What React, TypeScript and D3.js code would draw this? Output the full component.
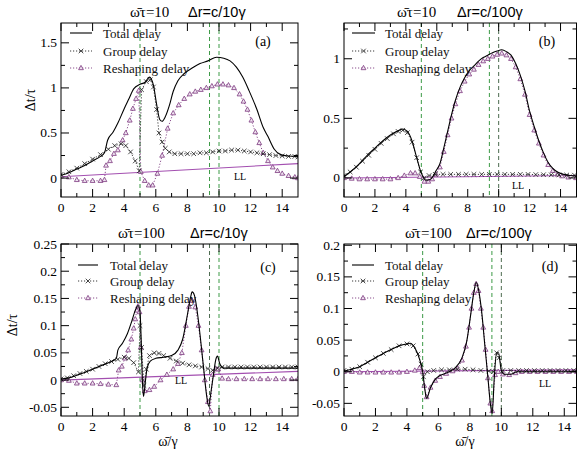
import React from 'react';
import * as d3 from 'd3';

type P = [number, number];

// ---------------- Panel (a): ω̄τ=10, Δr=c/10γ ----------------
const totalA: P[] = [[0,0.03],[0.5,0.06],[1,0.10],[1.5,0.14],[2,0.19],[2.5,0.24],[2.75,0.28],[2.95,0.42],[3.3,0.51],[3.6,0.61],[4.0,0.77],[4.3,0.88],[4.6,0.99],[5.0,1.04],[5.3,1.06],[5.6,1.12],[5.85,1.03],[6.05,0.82],[6.25,0.65],[6.4,0.63],[6.6,0.68],[6.85,0.80],[7.1,0.96],[7.4,1.08],[7.8,1.16],[8.3,1.22],[8.8,1.27],[9.3,1.30],[9.85,1.34],[10.3,1.33],[10.7,1.30],[11.1,1.23],[11.5,1.12],[11.9,0.97],[12.4,0.76],[12.8,0.56],[13.1,0.46],[13.5,0.32],[13.9,0.26],[14.4,0.245],[15,0.24]];
const groupA: P[] = [[0,0.04],[0.5,0.07],[1,0.11],[1.5,0.16],[2,0.21],[2.5,0.26],[3,0.32],[3.4,0.36],[3.8,0.38],[4.1,0.36],[4.4,0.29],[4.7,0.19],[4.95,0.08],[5.1,0.98],[5.4,1.07],[5.65,1.09],[5.85,1.01],[6.05,0.76],[6.2,0.5],[6.4,0.40],[6.6,0.33],[6.85,0.29],[7.2,0.27],[7.6,0.27],[8.0,0.27],[8.4,0.27],[8.8,0.28],[9.2,0.28],[9.6,0.29],[10.0,0.30],[10.4,0.30],[10.8,0.31],[11.2,0.31],[11.6,0.30],[12.0,0.29],[12.4,0.28],[12.8,0.27],[13.2,0.26],[13.6,0.25],[14.0,0.245],[14.4,0.24],[14.8,0.24],[15,0.235]];
const reshA: P[] = [[0,0.02],[0.5,0.01],[1,-0.02],[1.5,-0.03],[2,-0.03],[2.5,-0.03],[2.75,-0.02],[2.85,0.14],[3.1,0.19],[3.35,0.27],[3.6,0.31],[3.9,0.42],[4.1,0.50],[4.35,0.64],[4.55,0.77],[4.75,0.88],[4.92,0.97],[5.05,0.07],[5.3,-0.03],[5.55,-0.08],[5.8,-0.08],[6.1,0.05],[6.4,0.25],[6.75,0.55],[7.1,0.72],[7.45,0.81],[7.8,0.88],[8.15,0.93],[8.5,0.96],[8.85,0.98],[9.2,1.0],[9.55,1.02],[9.9,1.04],[10.25,1.04],[10.6,1.03],[10.95,1.0],[11.3,0.93],[11.55,0.85],[11.8,0.76],[12.05,0.64],[12.3,0.51],[12.55,0.39],[12.8,0.28],[13.1,0.19],[13.4,0.12],[13.7,0.08],[14.0,0.05],[14.4,0.025],[14.8,0.01],[15,0.0]];
const llA: P[] = [[0,0.015],[15,0.16]];

// ---------------- Panel (b): ω̄τ=10, Δr=c/100γ ----------------
const totalB: P[] = [[0,0.01],[0.5,0.06],[1,0.12],[1.5,0.19],[2,0.25],[2.5,0.31],[3,0.36],[3.4,0.39],[3.8,0.41],[4.1,0.39],[4.4,0.31],[4.7,0.17],[5.0,0.04],[5.3,-0.02],[5.6,-0.01],[5.95,0.06],[6.2,0.12],[6.45,0.25],[6.7,0.39],[6.95,0.53],[7.2,0.65],[7.5,0.76],[7.8,0.84],[8.1,0.90],[8.4,0.94],[8.7,0.98],[9.0,1.01],[9.3,1.03],[9.6,1.05],[9.9,1.065],[10.2,1.075],[10.5,1.06],[10.8,1.03],[11.1,0.96],[11.4,0.86],[11.7,0.73],[12.0,0.56],[12.3,0.43],[12.6,0.31],[12.9,0.21],[13.2,0.13],[13.5,0.08],[13.8,0.05],[14.2,0.03],[14.6,0.02],[15,0.015]];
const groupB: P[] = [[0,0.02],[0.4,0.05],[0.8,0.09],[1.2,0.14],[1.6,0.19],[2.0,0.24],[2.4,0.29],[2.8,0.33],[3.2,0.37],[3.5,0.39],[3.8,0.40],[4.1,0.38],[4.4,0.30],[4.7,0.17],[4.95,0.05],[5.2,0.0],[5.5,0.02],[5.9,0.03],[6.4,0.03],[6.9,0.03],[7.4,0.03],[7.9,0.03],[8.4,0.03],[8.9,0.03],[9.4,0.03],[9.9,0.03],[10.4,0.03],[10.9,0.03],[11.4,0.03],[11.9,0.03],[12.4,0.028],[12.9,0.027],[13.4,0.026],[13.9,0.025],[14.4,0.024],[14.9,0.023]];
const reshB: P[] = [[0,0.0],[0.5,-0.005],[1,-0.01],[1.5,-0.01],[2,-0.01],[2.5,-0.01],[3,-0.01],[3.5,0.0],[3.9,0.02],[4.3,0.04],[4.6,0.04],[4.9,0.01],[5.2,-0.03],[5.45,-0.03],[5.7,-0.01],[5.95,0.03],[6.2,0.09],[6.45,0.22],[6.7,0.36],[6.95,0.5],[7.2,0.62],[7.5,0.73],[7.8,0.81],[8.1,0.87],[8.4,0.91],[8.7,0.95],[9.0,0.98],[9.3,1.0],[9.6,1.02],[9.9,1.035],[10.2,1.045],[10.5,1.03],[10.8,1.0],[11.1,0.93],[11.4,0.83],[11.7,0.70],[12.0,0.53],[12.3,0.40],[12.6,0.29],[12.9,0.19],[13.2,0.11],[13.5,0.06],[13.8,0.03],[14.1,0.015],[14.5,0.005],[15,0.0]];
const llB: P[] = [[0,0.0],[15,0.02]];

// ---------------- Panel (c): ω̄τ=100, Δr=c/10γ ----------------
const totalC: P[] = [[0,0.002],[0.5,0.004],[1,0.009],[1.5,0.014],[2,0.02],[2.5,0.026],[3,0.032],[3.5,0.04],[3.6,0.055],[3.9,0.068],[4.2,0.085],[4.5,0.11],[4.7,0.128],[4.88,0.137],[5.0,0.125],[5.08,0.07],[5.15,0.0],[5.22,-0.03],[5.35,0.0],[5.45,0.022],[5.65,0.035],[6.0,0.04],[6.5,0.042],[7.0,0.045],[7.4,0.055],[7.7,0.075],[8.0,0.12],[8.2,0.152],[8.3,0.162],[8.45,0.155],[8.65,0.12],[8.85,0.07],[9.05,0.015],[9.2,-0.025],[9.35,-0.048],[9.5,-0.02],[9.65,0.01],[9.8,0.038],[9.9,0.044],[10.05,0.03],[10.3,0.022],[11,0.022],[15,0.022]];
const groupC: P[] = [[0,0.002],[0.4,0.004],[0.8,0.008],[1.2,0.012],[1.6,0.016],[2.0,0.02],[2.4,0.025],[2.8,0.03],[3.2,0.034],[3.6,0.038],[4.0,0.042],[4.3,0.04],[4.6,0.032],[4.9,0.015],[5.0,0.1],[5.1,0.06],[5.25,-0.01],[5.4,0.02],[5.6,0.045],[5.9,0.05],[6.2,0.049],[6.5,0.045],[6.9,0.04],[7.3,0.035],[7.7,0.031],[8.1,0.028],[8.5,0.026],[8.9,0.024],[9.3,0.021],[9.6,0.018],[9.9,0.022],[10.2,0.024],[10.6,0.024],[11.0,0.024],[11.4,0.024],[11.8,0.024],[12.2,0.024],[12.6,0.024],[13.0,0.024],[13.4,0.024],[13.8,0.024],[14.2,0.024],[14.6,0.024],[15,0.024]];
const reshC: P[] = [[0,0.0],[0.5,-0.001],[1,-0.006],[1.5,-0.006],[2,-0.006],[2.5,-0.007],[3,-0.008],[3.5,-0.009],[3.65,0.018],[3.85,0.025],[4.05,0.04],[4.25,0.055],[4.45,0.075],[4.6,0.095],[4.7,0.112],[4.8,0.128],[4.88,0.136],[4.97,0.125],[5.05,0.06],[5.15,0.0],[5.3,-0.02],[5.6,-0.018],[5.9,-0.012],[6.3,0.0],[6.7,0.01],[7.1,0.02],[7.4,0.03],[7.65,0.05],[7.9,0.1],[8.1,0.135],[8.3,0.146],[8.5,0.134],[8.7,0.1],[8.9,0.055],[9.1,0.0],[9.3,-0.04],[9.45,-0.057],[9.6,0.01],[9.8,0.02],[9.95,0.02],[10.2,0.003],[10.6,0.002],[11.1,0.002],[11.6,0.002],[12.1,0.002],[12.6,0.002],[13.1,0.002],[13.6,0.002],[14.1,0.002],[14.6,0.002],[15,0.002]];
const llC: P[] = [[0,0.0],[15,0.016]];

// ---------------- Panel (d): ω̄τ=100, Δr=c/100γ ----------------
const totalD: P[] = [[0,0.001],[0.5,0.004],[1,0.008],[1.5,0.015],[2,0.022],[2.5,0.029],[3,0.035],[3.5,0.041],[4.0,0.044],[4.2,0.045],[4.5,0.038],[4.8,0.02],[5.0,0.0],[5.15,-0.03],[5.25,-0.042],[5.5,-0.025],[5.8,-0.012],[6.1,-0.006],[6.6,-0.001],[7.1,0.007],[7.5,0.022],[7.8,0.048],[8.05,0.09],[8.25,0.125],[8.4,0.141],[8.55,0.13],[8.75,0.095],[8.95,0.042],[9.15,-0.01],[9.3,-0.05],[9.42,-0.066],[9.55,-0.01],[9.7,0.03],[9.82,0.03],[10.0,0.002],[10.2,-0.004],[10.6,-0.004],[11.0,0.0],[15,0.0]];
const groupD: P[] = [[0,0.002],[0.5,0.004],[1,0.008],[1.5,0.015],[2,0.022],[2.5,0.029],[3,0.035],[3.5,0.041],[4,0.044],[4.4,0.041],[4.7,0.028],[4.9,0.012],[5.05,-0.008],[5.3,0.0],[5.7,0.002],[6.2,0.003],[6.7,0.003],[7.2,0.004],[7.7,0.004],[8.2,0.003],[8.7,0.002],[9.2,0.001],[9.5,0.0],[9.7,0.03],[9.85,0.022],[10.1,0.002],[10.6,0.002],[11.1,0.002],[11.6,0.002],[12.1,0.002],[12.6,0.002],[13.1,0.002],[13.6,0.002],[14.1,0.002],[14.6,0.002],[15,0.002]];
const reshD: P[] = [[0,0],[0.5,0],[1,-0.001],[1.5,-0.001],[2,-0.001],[2.5,-0.001],[3,-0.001],[3.5,-0.001],[4,0.0],[4.5,0.002],[4.8,0.006],[5.0,0.0],[5.1,-0.022],[5.25,-0.04],[5.5,-0.025],[5.8,-0.014],[6.1,-0.008],[6.5,-0.003],[6.9,0.001],[7.2,0.005],[7.5,0.018],[7.75,0.04],[7.95,0.07],[8.1,0.1],[8.25,0.125],[8.4,0.139],[8.55,0.128],[8.7,0.1],[8.85,0.07],[9.0,0.035],[9.15,-0.01],[9.3,-0.05],[9.42,-0.062],[9.6,-0.005],[9.8,0.0],[10.1,-0.004],[10.5,-0.005],[10.9,-0.002],[11.3,0.0],[11.8,0.0],[12.3,0.0],[12.8,0.0],[13.3,0.0],[13.8,0.0],[14.3,0.0],[14.8,0.0]];
const llD: P[] = [[0,0.0],[15,0.003]];

// ---------------- Axes, ticks, labels ----------------
const xMajorTicks = [0, 2, 4, 6, 8, 10, 12, 14];
const xMinorTicks = [1, 3, 5, 7, 9, 11, 13];
const yMajorA = [0, 0.5, 1, 1.5];
const yMinorA = [0.25, 0.75, 1.25];
const yMajorB = [0, 0.5, 1];
const yMinorB = [0.25, 0.75, 1.25];
const yMajorC = [-0.05, 0, 0.05, 0.1, 0.15, 0.2, 0.25];
const yMinorC = [-0.025, 0.025, 0.075, 0.125, 0.175, 0.225];
const yMajorD = [-0.05, 0, 0.05, 0.1, 0.15, 0.2];
const yMinorD = [-0.025, 0.025, 0.075, 0.125, 0.175];
const dashedA = [5, 9.4, 10];
const dashedB = [5, 9.4, 10];
const dashedC = [5, 9.4, 10];
const dashedD = [5, 9.4, 10];
const OB = "\u03C9\u0304";
const titleA = [OB + "\u03C4=10", "\u0394r=c/10\u03B3"];
const titleB = [OB + "\u03C4=10", "\u0394r=c/100\u03B3"];
const titleC = [OB + "\u03C4=100", "\u0394r=c/10\u03B3"];
const titleD = [OB + "\u03C4=100", "\u0394r=c/100\u03B3"];
const legendLabels = ["Total delay", "Group delay", "Reshaping delay"];
const yAxisLabel = "\u0394t/\u03C4";
const xAxisLabel = OB + "/\u03B3";

const SERIF = "Liberation Serif, Times New Roman, Times, DejaVu Serif, serif";
const SANS = "Liberation Sans, Arial, Helvetica, sans-serif";
const PURPLE = "#7d3a80";
const LLCOL = "#a34fb0";
const GREEN = "#3c9a46";
const DARKG = "#4d6b50";

const panels = [
  { id: 'a', letter: '(a)', left: 61, frameRight: 298, xRange: [61, 298], top: 23, bottom: 197, yDomain: [-0.21, 1.72],
    yMajor: yMajorA, yMinor: yMinorA, total: totalA, group: groupA, resh: reshA, ll: llA, dashed: dashedA, dashCols: [GREEN, GREEN, GREEN],
    title: titleA, titleX: [130, 188], titleY: 17, letterPos: [263, 46], legend: { x0: 70, x1: 92, tx: 103, ys: [33, 51, 68] },
    llPos: [240, 180], xLabelX: null, yLabelPos: [32, 100] },
  { id: 'b', letter: '(b)', left: 344, frameRight: 576.5, xRange: [344, 576], top: 23, bottom: 197, yDomain: [-0.16, 1.3],
    yMajor: yMajorB, yMinor: yMinorB, total: totalB, group: groupB, resh: reshB, ll: llB, dashed: dashedB, dashCols: [GREEN, GREEN, DARKG],
    title: titleB, titleX: [397, 457], titleY: 17, letterPos: [547, 46], legend: { x0: 352, x1: 375, tx: 385, ys: [33, 51, 68] },
    llPos: [518, 189], xLabelX: null, yLabelPos: null },
  { id: 'c', letter: '(c)', left: 61, frameRight: 298, xRange: [61, 298], top: 244, bottom: 416, yDomain: [-0.066, 0.25],
    yMajor: yMajorC, yMinor: yMinorC, total: totalC, group: groupC, resh: reshC, ll: llC, dashed: dashedC, dashCols: [GREEN, DARKG, GREEN],
    title: titleC, titleX: [118, 190], titleY: 238, letterPos: [268, 272], legend: { x0: 78, x1: 98, tx: 110, ys: [265, 281, 298] },
    llPos: [181, 384], xLabelX: 168, yLabelPos: [14, 325] },
  { id: 'd', letter: '(d)', left: 344, frameRight: 576.5, xRange: [344, 580], top: 244, bottom: 416, yDomain: [-0.07, 0.202],
    yMajor: yMajorD, yMinor: yMinorD, total: totalD, group: groupD, resh: reshD, ll: llD, dashed: dashedD, dashCols: [GREEN, GREEN, DARKG],
    title: titleD, titleX: [405, 466], titleY: 238, letterPos: [550, 271], legend: { x0: 352, x1: 374, tx: 385, ys: [265, 281, 298] },
    llPos: [545, 387], xLabelX: 465, yLabelPos: null },
];

function Cross({ x, y, s = 2.3 }: { x: number; y: number; s?: number }) {
  return <path d={`M${x - s},${y - s}L${x + s},${y + s}M${x - s},${y + s}L${x + s},${y - s}`} stroke="#222" strokeWidth={0.8} fill="none" />;
}
function Tri({ x, y, s = 2.4 }: { x: number; y: number; s?: number }) {
  return <path d={`M${x},${y - s * 1.1}L${x + s},${y + s * 0.7}L${x - s},${y + s * 0.7}Z`} stroke={PURPLE} strokeWidth={0.8} fill="#efe4f0" />;
}

function Panel({ p }: { p: any }) {
  const x = d3.scaleLinear().domain([0, 15]).range(p.xRange);
  const y = d3.scaleLinear().domain(p.yDomain).range([p.bottom, p.top]);
  const lin = d3.line<P>().x(d => x(d[0])).y(d => y(d[1]));
  const smooth = d3.line<P>().x(d => x(d[0])).y(d => y(d[1])).curve(d3.curveMonotoneX);
  const clip = `clip-${p.id}`;
  const W = p.frameRight - p.left;
  const fmt = (v: number) => String(+v.toFixed(3));
  const lg = p.legend;
  const mid = (lg.x0 + lg.x1) / 2;
  const serif = { fontFamily: SERIF };
  return (
    <g>
      <defs>
        <clipPath id={clip}><rect x={p.left} y={p.top} width={W} height={p.bottom - p.top} /></clipPath>
      </defs>
      <g clipPath={`url(#${clip})`}>
        {p.dashed.map((v: number, i: number) => (
          <line key={i} x1={x(v)} x2={x(v)} y1={p.top} y2={p.bottom} stroke={p.dashCols[i]} strokeWidth={1} strokeDasharray="4,3" />
        ))}
        <path d={lin(p.ll) || ''} stroke={LLCOL} strokeWidth={1.1} fill="none" />
        <path d={lin(p.resh) || ''} stroke={PURPLE} strokeWidth={0.9} strokeDasharray="1.2,1.8" fill="none" />
        {p.resh.map((d: P, i: number) => <Tri key={i} x={x(d[0])} y={y(d[1])} />)}
        <path d={lin(p.group) || ''} stroke="#222" strokeWidth={0.9} strokeDasharray="1.2,1.8" fill="none" />
        {p.group.map((d: P, i: number) => <Cross key={i} x={x(d[0])} y={y(d[1])} />)}
        <path d={smooth(p.total) || ''} stroke="#000" strokeWidth={1.1} fill="none" />
      </g>
      <rect x={p.left} y={p.top} width={W} height={p.bottom - p.top} fill="none" stroke="#000" strokeWidth={1} />
      {xMajorTicks.map(v => (
        <g key={'xm' + v}>
          <line x1={x(v)} x2={x(v)} y1={p.bottom} y2={p.bottom - 8} stroke="#000" />
          <line x1={x(v)} x2={x(v)} y1={p.top} y2={p.top + 8} stroke="#000" />
          <text x={x(v)} y={p.bottom + 15} textAnchor="middle" style={serif} fontSize={13.5}>{v}</text>
        </g>
      ))}
      {xMinorTicks.map(v => (
        <g key={'xn' + v}>
          <line x1={x(v)} x2={x(v)} y1={p.bottom} y2={p.bottom - 4} stroke="#000" />
          <line x1={x(v)} x2={x(v)} y1={p.top} y2={p.top + 4} stroke="#000" />
        </g>
      ))}
      {p.yMajor.map((v: number) => (
        <g key={'ym' + v}>
          <line x1={p.left} x2={p.left + 8} y1={y(v)} y2={y(v)} stroke="#000" />
          <line x1={p.frameRight} x2={p.frameRight - 8} y1={y(v)} y2={y(v)} stroke="#000" />
          <text x={p.left - 4} y={y(v) + 4.5} textAnchor="end" style={serif} fontSize={13.5}>{fmt(v)}</text>
        </g>
      ))}
      {p.yMinor.map((v: number) => (
        <g key={'yn' + v}>
          <line x1={p.left} x2={p.left + 4} y1={y(v)} y2={y(v)} stroke="#000" />
          <line x1={p.frameRight} x2={p.frameRight - 4} y1={y(v)} y2={y(v)} stroke="#000" />
        </g>
      ))}
      <text x={p.titleX[0]} y={p.titleY} style={serif} fontSize={15}>{p.title[0]}</text>
      <text x={p.titleX[1]} y={p.titleY} style={{ fontFamily: SANS }} fontSize={14.5}>{p.title[1]}</text>
      <text x={p.letterPos[0]} y={p.letterPos[1]} textAnchor="middle" style={serif} fontSize={14}>{p.letter}</text>
      <text x={p.llPos[0]} y={p.llPos[1]} textAnchor="middle" style={serif} fontSize={10}>LL</text>
      <line x1={lg.x0} x2={lg.x1} y1={lg.ys[0]} y2={lg.ys[0]} stroke="#000" strokeWidth={1.1} />
      <line x1={lg.x0} x2={lg.x1} y1={lg.ys[1]} y2={lg.ys[1]} stroke="#222" strokeWidth={0.9} strokeDasharray="1.2,1.8" />
      <Cross x={mid} y={lg.ys[1]} />
      <line x1={lg.x0} x2={lg.x1} y1={lg.ys[2]} y2={lg.ys[2]} stroke={PURPLE} strokeWidth={0.9} strokeDasharray="1.2,1.8" />
      <Tri x={mid} y={lg.ys[2]} />
      {legendLabels.map((t, i) => (
        <text key={t} x={lg.tx} y={lg.ys[i] + 4.5} style={serif} fontSize={13} fill="#111">{t}</text>
      ))}
      {p.yLabelPos && (
        <text transform={`translate(${p.yLabelPos[0]},${p.yLabelPos[1]}) rotate(-90)`} textAnchor="middle" dominantBaseline="middle" style={serif} fontSize={14}>{yAxisLabel}</text>
      )}
      {p.xLabelX !== null && (
        <text x={p.xLabelX} y={446} textAnchor="middle" style={serif} fontSize={14}>{xAxisLabel}</text>
      )}
    </g>
  );
}

export default function App() {
  return (
    <svg width={577} height={456} viewBox="0 0 577 456" style={{ position: 'absolute', left: 0, top: 0, background: '#fff' }}>
      <rect x={0} y={0} width={577} height={456} fill="#fff" />
      {panels.map(p => <Panel key={p.id} p={p} />)}
    </svg>
  );
}
